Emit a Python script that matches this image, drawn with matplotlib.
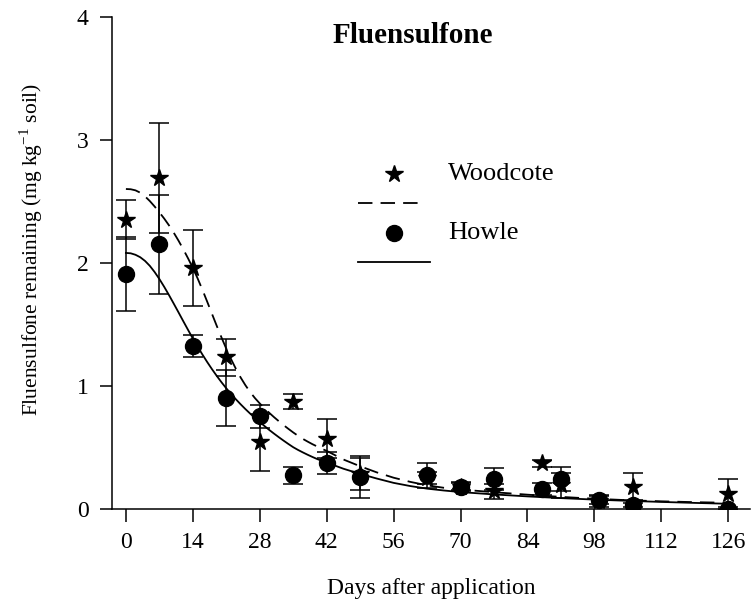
import matplotlib
matplotlib.use('Agg')
import matplotlib.pyplot as plt

plt.rcParams['font.family'] = ['Liberation Serif', 'DejaVu Serif']
plt.rcParams['mathtext.fontset'] = 'custom'
plt.rcParams['mathtext.rm'] = 'Liberation Serif'

# sampling days (both sites)
days = [0, 7, 14, 21, 28, 35, 42, 49, 63, 70, 77, 87, 91, 99, 106, 126]

# Woodcote means and errors (mg/kg soil)
woodcote = [2.35, 2.69, 1.96, 1.23, 0.54, 0.87, 0.57, 0.28, 0.25, 0.18, 0.14, 0.37, 0.19, 0.06, 0.18, 0.12]
woodcote_err = [0.16, 0.45, 0.31, 0.15, 0.23, 0.06, 0.16, 0.13, 0.05, 0.03, 0.06, 0.03, 0.10, 0.05, 0.11, 0.12]

# Howle means and errors
howle = [1.91, 2.15, 1.32, 0.90, 0.75, 0.27, 0.37, 0.26, 0.27, 0.18, 0.24, 0.16, 0.24, 0.07, 0.03, 0.00]
howle_err = [0.30, 0.40, 0.09, 0.23, 0.09, 0.07, 0.09, 0.17, 0.10, 0.04, 0.09, 0.05, 0.10, 0.03, 0.02, 0.01]

# fitted curves
fit_days = [0, 1, 2, 3, 4, 5, 6, 7, 8, 9, 10, 11, 12, 13, 14, 15, 16, 17, 18, 19, 20,
            21, 22, 23, 24, 25, 26, 27, 28, 29, 30, 31, 32, 33, 34, 35, 36, 37, 38, 39, 40,
            41, 42, 45.5, 49, 52.5, 56, 59.5, 63, 66.5, 70, 77, 84, 91, 98, 105, 112, 119, 126]
fit_woodcote = [2.600, 2.598, 2.589, 2.570, 2.540, 2.502, 2.458, 2.410, 2.360, 2.305, 2.245,
                2.180, 2.110, 2.036, 1.958, 1.873, 1.781, 1.684, 1.585, 1.487, 1.392,
                1.301, 1.216, 1.138, 1.067, 1.004, 0.948, 0.899, 0.856, 0.816, 0.779,
                0.744, 0.711, 0.679, 0.649, 0.620, 0.593, 0.568, 0.546, 0.525, 0.506,
                0.487, 0.470, 0.400, 0.345, 0.295, 0.252, 0.218, 0.190, 0.170, 0.156,
                0.134, 0.114, 0.096, 0.081, 0.069, 0.060, 0.053, 0.048]
fit_howle = [2.080, 2.077, 2.065, 2.045, 2.015, 1.975, 1.925, 1.868, 1.805, 1.738, 1.668,
             1.597, 1.525, 1.454, 1.384, 1.318, 1.254, 1.193, 1.135, 1.080, 1.028,
             0.979, 0.933, 0.890, 0.849, 0.810, 0.773, 0.738, 0.705, 0.672, 0.640,
             0.610, 0.581, 0.553, 0.526, 0.500, 0.478, 0.458, 0.439, 0.421, 0.404,
             0.389, 0.375, 0.325, 0.283, 0.245, 0.210, 0.184, 0.163, 0.148, 0.135,
             0.116, 0.100, 0.086, 0.074, 0.064, 0.055, 0.047, 0.040]

dash = (0, (8, 4.5))

fig = plt.figure(figsize=(7.52, 6.02), dpi=100)
ax = fig.add_axes([0.149, 0.155, 0.848, 0.817])

ax.plot(fit_days, fit_woodcote, color='black', lw=1.3, ls=dash)
ax.plot(fit_days, fit_howle, color='black', lw=1.3)

ax.errorbar(days, woodcote, yerr=woodcote_err, fmt='*', color='black', ms=13,
            ecolor='black', elinewidth=1.1, capsize=7, capthick=1.1)
ax.errorbar(days, howle, yerr=howle_err, fmt='o', color='black', ms=11.5,
            ecolor='black', elinewidth=1.1, capsize=7, capthick=1.1)

ax.set_xlim(-2.9, 130.5)
ax.set_ylim(0, 4)
ax.set_xticks(range(0, 127, 14))
ax.set_yticks([0, 1, 2, 3, 4])
ax.spines['top'].set_visible(False)
ax.spines['right'].set_visible(False)
ax.spines['left'].set_linewidth(1.1)
ax.spines['bottom'].set_linewidth(1.1)
ax.tick_params(direction='out', length=9, width=1.1, labelsize=17, pad=8)

ax.set_xlabel('Days after application', fontsize=17, labelpad=18)
ax.set_ylabel('Fluensulfone remaining (mg kg$^{-1}$ soil)', fontsize=15.5)
ax.yaxis.set_label_coords(-0.105, 0.528)

ax.text(0.472, 0.963, 'Fluensulfone', transform=ax.transAxes, ha='center', va='center',
        fontsize=21, fontweight='bold')

# legend, drawn by hand like the original
ax.plot([0.4425], [0.680], marker='*', color='black', ms=13, transform=ax.transAxes, clip_on=False)
ax.text(0.527, 0.680, 'Woodcote', transform=ax.transAxes, va='center', fontsize=19)
ax.plot([0.386, 0.485], [0.622, 0.622], color='black', lw=1.3, ls=dash, transform=ax.transAxes)
ax.plot([0.4425], [0.561], marker='o', color='black', ms=11.5, transform=ax.transAxes, clip_on=False)
ax.text(0.527, 0.561, 'Howle', transform=ax.transAxes, va='center', fontsize=19)
ax.plot([0.386, 0.498], [0.502, 0.502], color='black', lw=1.3, transform=ax.transAxes)

fig.savefig('out.png', dpi=100)
